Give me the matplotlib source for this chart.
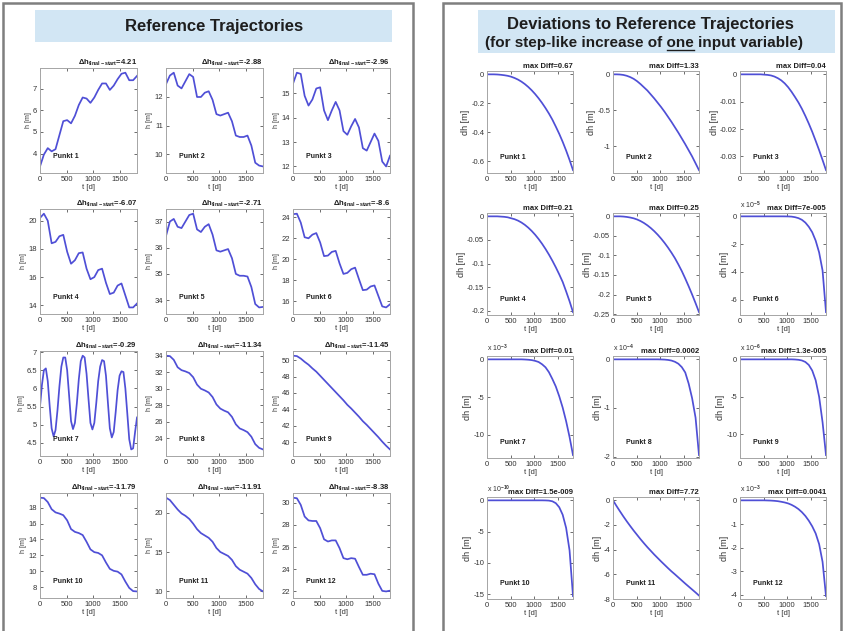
import matplotlib
matplotlib.use("Agg")
import matplotlib.pyplot as plt
from matplotlib.patches import Rectangle
from matplotlib.lines import Line2D
from matplotlib.ticker import FuncFormatter

plt.rcParams["font.family"] = ["Liberation Sans", "DejaVu Sans"]
plt.rcParams["axes.unicode_minus"] = False
plt.rcParams["mathtext.fontset"] = "custom"
plt.rcParams["mathtext.rm"] = "Liberation Sans:bold"
plt.rcParams["mathtext.it"] = "Liberation Sans:bold:italic"
plt.rcParams["mathtext.bf"] = "Liberation Sans:bold"

# time axis [d]
t_days = [0, 73, 146, 219, 292, 365, 438, 511, 584, 657, 730, 803, 876,
          949, 1022, 1095, 1168, 1241, 1314, 1387, 1460, 1533, 1606, 1679,
          1752, 1825]
t_days_fine = [0, 37, 73, 110, 146, 183, 219, 256, 292, 329, 365, 402, 438,
               475, 511, 548, 584, 621, 657, 694, 730, 767, 803, 840, 876,
               913, 949, 986, 1022, 1059, 1095, 1132, 1168, 1205, 1241, 1278,
               1314, 1351, 1387, 1424, 1460, 1497, 1533, 1570, 1606, 1643,
               1679, 1716, 1752, 1789, 1825]

# reference trajectories h [m]
ref_p1 = [3.4, 3.95, 4.25, 4.1, 4.2, 4.85, 5.5, 5.55, 5.4, 5.75, 6.25, 6.6, 6.55,
          6.35, 6.6, 6.95, 7.25, 7.25, 6.95, 7.15, 7.45, 7.7, 7.75, 7.4, 7.4, 7.6]
ref_p2 = [12.45, 12.75, 12.85, 12.4, 12.3, 12.55, 12.8, 12.7, 12.0, 12.0, 12.15,
          12.2, 11.9, 11.4, 11.35, 11.4, 11.45, 11.15, 10.65, 10.6, 10.6, 10.65,
          10.3, 9.7, 9.6, 9.57]
ref_p3 = [15.4, 15.85, 15.8, 14.9, 14.5, 14.75, 15.2, 15.25, 14.3, 13.9, 14.3,
          14.65, 14.3, 13.45, 13.3, 13.65, 13.95, 13.6, 12.75, 12.65, 13.0, 13.35,
          13.05, 12.2, 12.0, 12.44]
ref_p4 = [20.2, 20.5, 20.0, 18.4, 18.5, 18.9, 19.0, 17.8, 16.95, 17.2, 17.7, 17.75,
          16.6, 15.85, 16.0, 16.5, 16.6, 15.6, 14.8, 14.9, 15.4, 15.55, 14.7, 13.85,
          13.85, 14.13]
ref_p5 = [36.45, 37.0, 37.1, 36.8, 36.75, 37.0, 37.25, 37.3, 36.7, 36.6, 36.8, 36.9,
          36.5, 35.9, 35.85, 35.9, 35.95, 35.6, 35.0, 34.93, 34.93, 34.9, 34.5,
          33.85, 33.72, 33.74]
ref_p6 = [24.3, 24.35, 23.5, 22.1, 22.0, 22.35, 22.5, 21.6, 20.3, 20.35, 20.7, 20.8,
          19.6, 18.6, 18.7, 19.05, 19.2, 18.1, 17.05, 17.1, 17.4, 17.5, 16.5, 15.5,
          15.4, 15.7]
ref_p7 = [5.5, 6.1, 6.5, 6.55, 6.2, 5.5, 4.9, 4.68, 4.85, 5.4,
          6.05, 6.6, 6.85, 6.85, 6.5, 5.8, 5.1, 4.88, 5.05, 5.6,
          6.25, 6.75, 6.9, 6.85, 6.4, 5.7, 5.05, 4.87, 5.05, 5.6,
          6.2, 6.6, 6.78, 6.75, 6.35, 5.6, 4.9, 4.65, 4.8, 5.35,
          5.95, 6.35, 6.47, 6.45, 6.0, 5.3, 4.6, 4.32, 4.35, 4.8, 5.2]
ref_p8 = [34.0, 33.95, 33.5, 32.6, 32.25, 32.1, 31.9, 31.4, 30.5, 30.0, 29.8, 29.55,
          29.0, 28.1, 27.6, 27.35, 27.15, 26.6, 25.7, 25.2, 25.0, 24.75, 24.2, 23.3,
          22.85, 22.66]
ref_p9 = [50.55, 50.5, 50.2, 49.8, 49.45, 49.0, 48.6, 48.1, 47.6, 47.1, 46.6, 46.1,
          45.6, 45.1, 44.55, 44.1, 43.6, 43.1, 42.55, 42.1, 41.6, 41.1, 40.6, 40.05,
          39.55, 39.1]
ref_p10 = [19.25, 19.2, 18.7, 17.8, 17.4, 17.25, 17.05, 16.4, 15.3, 14.95, 14.8,
           14.55, 13.7, 12.75, 12.4, 12.3, 12.0, 11.1, 10.3, 10.05, 9.95, 9.6, 8.7,
           7.9, 7.5, 7.46]
ref_p11 = [21.9, 21.6, 21.0, 20.4, 19.9, 19.6, 19.2, 18.6, 17.9, 17.4, 17.1, 16.8,
           16.3, 15.5, 15.0, 14.75, 14.5, 14.0, 13.2, 12.75, 12.5, 12.25, 11.7, 10.9,
           10.3, 9.99]
ref_p12 = [30.45, 30.4, 29.8, 28.75, 28.4, 28.35, 28.35, 27.7, 26.7, 26.5, 26.6,
           26.6, 25.9, 25.0, 24.9, 25.0, 24.95, 24.2, 23.5, 23.5, 23.6, 23.55, 22.7,
           22.05, 22.0, 22.07]

# deviations dh [m] (already divided by the axis exponent, see dev_exponent)
dev_p1 = [0, 0, 0, -0.001, -0.003, -0.006, -0.01, -0.016, -0.025, -0.036, -0.05,
          -0.067, -0.087, -0.11, -0.136, -0.165, -0.197, -0.232, -0.27, -0.312,
          -0.36, -0.41, -0.465, -0.525, -0.59, -0.66]
dev_p2 = [0, 0, -0.002, -0.008, -0.02, -0.038, -0.062, -0.095, -0.135, -0.18,
          -0.225, -0.28, -0.335, -0.395, -0.455, -0.52, -0.59, -0.66, -0.735, -0.81,
          -0.89, -0.97, -1.055, -1.14, -1.235, -1.33]
dev_p3 = [0, 0, 0, 0, 0, 0, 0, -0.0001, -0.0002, -0.0004, -0.0008, -0.0014, -0.0022,
          -0.0033, -0.0047, -0.0064, -0.0083, -0.0103, -0.0126, -0.0152, -0.018,
          -0.021, -0.0243, -0.0277, -0.0313, -0.035]
dev_p4 = [0, 0, 0, 0, -0.0005, -0.001, -0.002, -0.004, -0.006, -0.009, -0.013,
          -0.018, -0.024, -0.031, -0.039, -0.048, -0.058, -0.069, -0.081, -0.094,
          -0.108, -0.123, -0.139, -0.159, -0.18, -0.203]
dev_p5 = [0, 0, 0, -0.0005, -0.0015, -0.003, -0.005, -0.008, -0.012, -0.017, -0.023,
          -0.03, -0.038, -0.047, -0.057, -0.068, -0.08, -0.093, -0.107, -0.123,
          -0.14, -0.159, -0.179, -0.2, -0.222, -0.245]
dev_p6 = [0, 0, 0, 0, 0, 0, 0, 0, 0, 0, 0, 0, 0, -0.002, -0.006, -0.02, -0.06,
          -0.13, -0.25, -0.45, -0.75, -1.15, -1.75, -2.6, -3.9, -6.9]
dev_p7 = [0, 0, 0, 0, 0, 0, 0, 0, 0, 0, 0, -0.02, -0.05, -0.1, -0.2, -0.35, -0.65,
          -1.05, -1.7, -2.6, -3.6, -4.9, -6.4, -8.2, -10.3, -12.7]
dev_p8 = [0, 0, 0, 0, 0, 0, 0, 0, 0, 0, 0, 0, 0, 0, -0.002, -0.005, -0.012, -0.025,
          -0.05, -0.09, -0.16, -0.27, -0.5, -0.8, -1.2, -1.97]
dev_p9 = [0, 0, 0, 0, 0, 0, 0, 0, 0, 0, 0, 0, 0, 0, 0, 0, -0.02, -0.06, -0.15,
          -0.35, -0.75, -1.5, -2.8, -5.0, -8.4, -12.8]
dev_p10 = [0, 0, 0, 0, 0, 0, 0, 0, 0, 0, 0, 0, 0, 0, 0, 0, 0, -0.01, -0.04, -0.15,
           -0.45, -1.1, -2.3, -4.4, -8.0, -15.3]
dev_p11 = [0, -0.45, -0.88, -1.3, -1.7, -2.08, -2.45, -2.8, -3.15, -3.48, -3.8,
           -4.1, -4.4, -4.68, -4.96, -5.23, -5.5, -5.76, -6.0, -6.25, -6.5, -6.75,
           -6.99, -7.23, -7.47, -7.72]
dev_p12 = [0, 0, 0, 0, 0, 0, 0, 0, -0.005, -0.01, -0.02, -0.035, -0.06, -0.09,
           -0.13, -0.19, -0.27, -0.37, -0.5, -0.66, -0.86, -1.1, -1.4, -1.85, -2.6,
           -4.05]

punkt_ids = [1, 2, 3, 4, 5, 6, 7, 8, 9, 10, 11, 12]
ref_delta_h = ["4.21", "-2.88", "-2.96", "-6.07", "-2.71", "-8.6", "-0.29",
               "-11.34", "-11.45", "-11.79", "-11.91", "-8.38"]
dev_max_diff = ["0.67", "1.33", "0.04", "0.21", "0.25", "7e-005", "0.01",
                "0.0002", "1.3e-005", "1.5e-009", "7.72", "0.0041"]
dev_exponent = [0, 0, 0, 0, 0, -5, -3, -4, -6, -10, 0, -3]

ref_yticks = [[4, 5, 6, 7], [10, 11, 12], [12, 13, 14, 15], [14, 16, 18, 20],
              [34, 35, 36, 37], [16, 18, 20, 22, 24], [4.5, 5, 5.5, 6, 6.5, 7],
              [24, 26, 28, 30, 32, 34], [40, 42, 44, 46, 48, 50],
              [8, 10, 12, 14, 16, 18], [10, 15, 20], [22, 24, 26, 28, 30]]
dev_yticks = [[-0.6, -0.4, -0.2, 0], [-1, -0.5, 0], [-0.03, -0.02, -0.01, 0],
              [-0.2, -0.15, -0.1, -0.05, 0], [-0.25, -0.2, -0.15, -0.1, -0.05, 0],
              [-6, -4, -2, 0], [-10, -5, 0], [-2, -1, 0], [-10, -5, 0],
              [-15, -10, -5, 0], [-8, -6, -4, -2, 0], [-4, -3, -2, -1, 0]]

ref_curves = [ref_p1, ref_p2, ref_p3, ref_p4, ref_p5, ref_p6, ref_p7, ref_p8,
              ref_p9, ref_p10, ref_p11, ref_p12]
dev_curves = [dev_p1, dev_p2, dev_p3, dev_p4, dev_p5, dev_p6, dev_p7, dev_p8,
              dev_p9, dev_p10, dev_p11, dev_p12]

W, H = 846, 631
LINE_COLOR = "#4f4fd6"
TEXT_COLOR = "#1e1e1e"
BOX_COLOR = "#d2e6f4"

fig = plt.figure(figsize=(W / 100, H / 100), dpi=100)
fig.patch.set_facecolor("white")


def fx(x):
    return x / W


def fy(y):
    return 1 - y / H


def add_px_axes(left, top, width, height):
    ax = fig.add_axes([fx(left), fy(top + height), width / W, height / H])
    ax.set_zorder(5)
    return ax


def style_axes(ax, yticks, ydata, pad_lo, pad_hi):
    ax.set_xlim(0, 1825)
    ax.set_xticks([0, 500, 1000, 1500])
    ax.set_yticks(yticks)
    lo, hi = min(ydata), max(ydata)
    rng = hi - lo
    ax.set_ylim(min(lo - pad_lo * rng, min(yticks)),
                max(hi + pad_hi * rng, max(yticks)))
    fmt = FuncFormatter(lambda v, p: f"{v:g}")
    ax.xaxis.set_major_formatter(fmt)
    ax.yaxis.set_major_formatter(fmt)
    ax.tick_params(direction="in", length=2, width=0.5, labelsize=5.5, pad=2,
                   top=True, right=True, colors="#333333")
    for s in ax.spines.values():
        s.set_color("#a5a5a5")
        s.set_linewidth(0.7)
    ax.set_xlabel("t [d]", fontsize=5.5, labelpad=1, color="#333333")


# panel frames and title boxes
fig.patches.append(Rectangle((fx(3), fy(640)), (413 - 3) / W, 637 / H,
                             transform=fig.transFigure, facecolor="white",
                             edgecolor="#7f7f7f", linewidth=1.8, zorder=-2))
fig.patches.append(Rectangle((fx(443), fy(640)), (841 - 443) / W, 637 / H,
                             transform=fig.transFigure, facecolor="white",
                             edgecolor="#7f7f7f", linewidth=1.8, zorder=-2))
fig.patches.append(Rectangle((fx(35), fy(42)), (392 - 35) / W, 32 / H,
                             transform=fig.transFigure, facecolor=BOX_COLOR,
                             edgecolor="none", zorder=-1))
fig.patches.append(Rectangle((fx(478), fy(53)), (835 - 478) / W, 43 / H,
                             transform=fig.transFigure, facecolor=BOX_COLOR,
                             edgecolor="none", zorder=-1))

fig.text(fx(214), fy(26), "Reference Trajectories", ha="center", va="center",
         fontsize=12, fontweight="bold", color=TEXT_COLOR)
fig.text(fx(650), fy(25), "Deviations to Reference Trajectories", ha="center",
         va="center", fontsize=12, fontweight="bold", color=TEXT_COLOR)

sub_line = "(for step-like increase of one input variable)"
sub_kw = dict(fontsize=11, fontweight="bold", color=TEXT_COLOR)
fig.text(fx(644), fy(47), sub_line, ha="center", va="baseline", **sub_kw)

# underline "one"
renderer = fig.canvas.get_renderer()


def text_width(s):
    tmp = fig.text(0, 0, s, **sub_kw)
    w = tmp.get_window_extent(renderer).width
    tmp.remove()
    return w


full_w = text_width(sub_line)
left_px = 644 - full_w / 2
one_end = left_px + text_width("(for step-like increase of one")
one_start = one_end - text_width("one")
fig.lines.append(Line2D([fx(one_start), fx(one_end)], [fy(49.5), fy(49.5)],
                        transform=fig.transFigure, color=TEXT_COLOR, linewidth=1.0))

# left panel: reference trajectories
left_cols = [40, 166, 293]
left_rows = [68, 209, 351, 493]
for i, (curve, n) in enumerate(zip(ref_curves, punkt_ids)):
    r, c = divmod(i, 3)
    ax = add_px_axes(left_cols[c], left_rows[r], 97, 105)
    t = t_days_fine if len(curve) == len(t_days_fine) else t_days
    ax.plot(t, curve, color=LINE_COLOR, linewidth=1.25)
    style_axes(ax, ref_yticks[i], curve, 0.07, 0.05)
    ax.set_ylabel("h [m]", fontsize=5, labelpad=1, color="#333333")
    ax.set_title(r"$\Delta$h$_{\mathrm{final-start}}$=" + ref_delta_h[i],
                 loc="right", fontsize=5.5, fontweight="bold", pad=2,
                 color=TEXT_COLOR)
    ax.text(0.13, 0.14, f"Punkt {n}", transform=ax.transAxes, fontsize=5,
            fontweight="bold", color=TEXT_COLOR)

# right panel: deviations
right_cols = [487, 613, 740]
right_rows = [71, 213, 356, 497]
for i, (curve, n) in enumerate(zip(dev_curves, punkt_ids)):
    r, c = divmod(i, 3)
    ax = add_px_axes(right_cols[c], right_rows[r], 86, 102)
    ax.plot(t_days, curve, color=LINE_COLOR, linewidth=1.25)
    style_axes(ax, dev_yticks[i], curve, 0.03, 0.035)
    ax.set_ylabel("dh [m]", fontsize=6.5, labelpad=1, color="#333333")
    ax.set_title("max Diff=" + dev_max_diff[i], loc="right", fontsize=5.5,
                 fontweight="bold", pad=2, color=TEXT_COLOR)
    if dev_exponent[i] != 0:
        ax.text(0.0, 1.015, "x 10$^{%d}$" % dev_exponent[i], transform=ax.transAxes,
                ha="left", va="bottom", fontsize=5, color="#333333")
    ax.text(0.15, 0.14, f"Punkt {n}", transform=ax.transAxes, fontsize=5,
            fontweight="bold", color=TEXT_COLOR)

fig.savefig("out.png", dpi=100)
